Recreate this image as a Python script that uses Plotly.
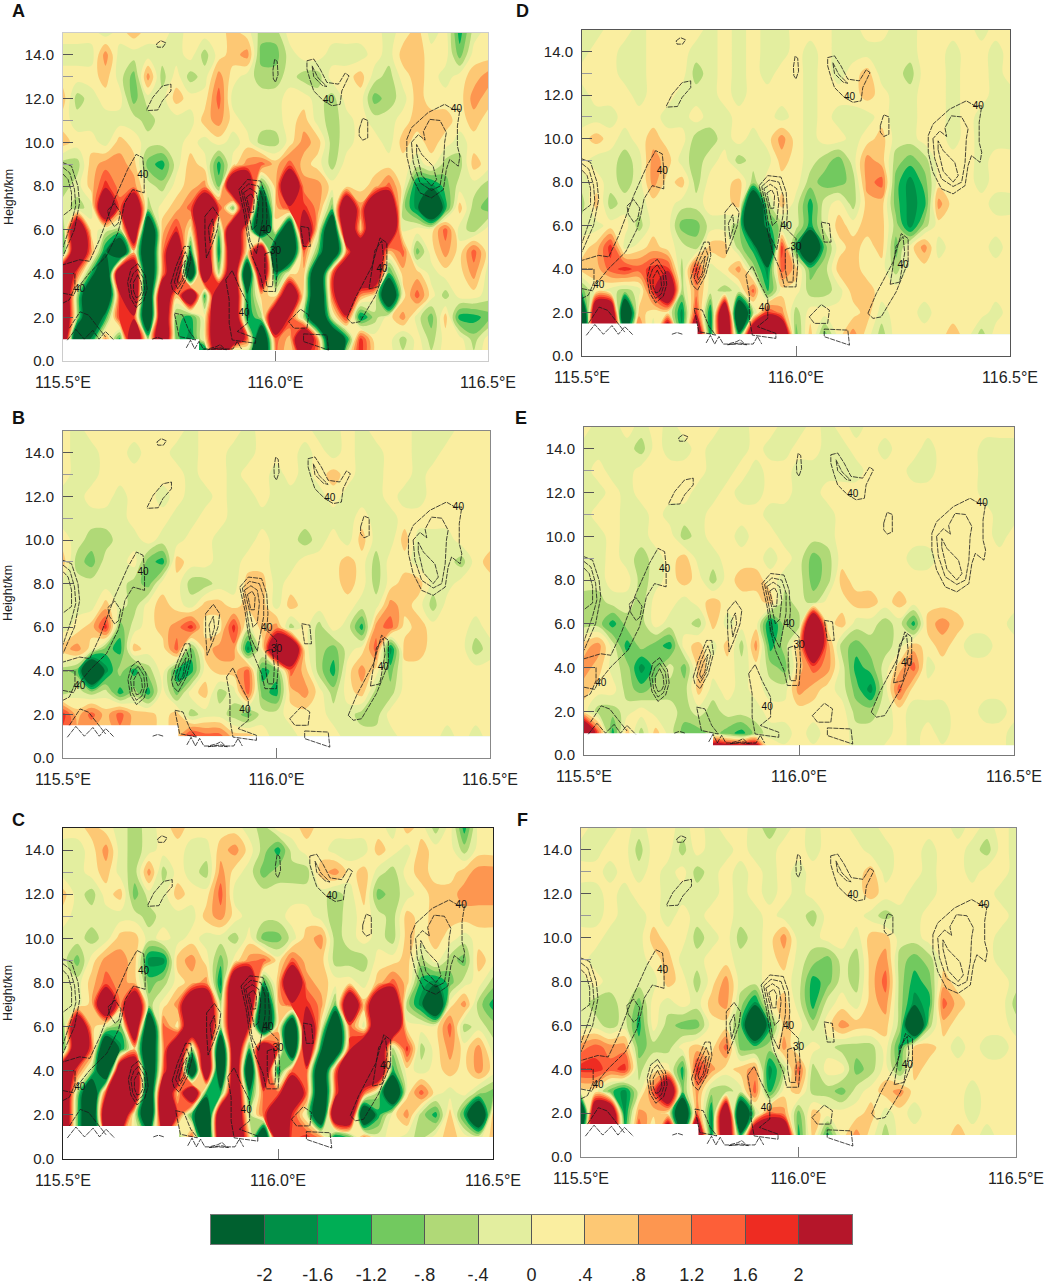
import plotly.graph_objects as go

# ---------- data (vertical velocity, in tenths of the colour-bar unit) ----------
lons = [115.5 + i / 30 for i in range(31)]
heights = [15, 14, 13, 12, 11, 10, 9, 8, 7, 6, 5, 4, 3, 2, 1]
heights_low = heights + [0]

panel_a = [
[2,2,2,-2,2,6,2,2,-2,2,2,2,6,2,-6,-6,2,2,2,2,2,2,2,-2,2,6,-2,2,-14,-2,2],
[-2,-2,-2,10,-2,-2,-2,-2,-2,2,-6,2,6,10,-10,-10,-2,2,2,-2,-2,-2,2,-2,6,6,2,2,-10,2,2],
[2,2,2,6,-2,-10,10,-6,2,-6,-2,10,2,-2,-6,-6,-2,-6,-6,2,2,6,-2,-6,2,6,2,-2,2,6,10],
[6,-6,-2,2,2,-10,-2,-2,6,2,2,14,-2,-2,-2,-2,2,2,-2,-6,2,2,-10,-6,-2,6,2,2,2,10,6],
[2,-2,-2,-2,-2,-2,-6,-2,-2,-2,6,10,2,-2,-2,-2,2,6,-2,-6,-2,2,-2,-2,2,6,6,6,2,6,2],
[6,2,2,-2,6,2,-2,-2,-2,2,-2,2,-2,2,-6,-6,2,10,6,-6,-2,2,2,-2,6,2,6,2,-2,2,2],
[-6,-6,6,10,10,6,-10,-14,-2,6,2,-14,2,10,14,6,14,6,2,-6,2,2,2,2,2,-2,2,-6,-6,6,2],
[-6,-2,6,18,10,10,-2,-6,2,6,10,-10,24,24,-14,6,24,10,10,2,2,2,6,14,2,-18,-18,-10,-2,-2,-6],
[-2,-6,-2,24,14,24,-6,2,6,14,24,18,-10,24,-24,6,18,18,10,-10,24,10,24,24,-6,-18,-24,-14,6,-6,-10],
[-10,24,2,-2,-6,24,-24,6,18,2,24,-10,24,6,-24,2,-24,24,2,-24,24,6,24,24,-2,2,2,14,-2,-6,2],
[-14,24,10,-18,-24,6,-24,10,24,-18,24,-18,24,2,24,-24,-24,14,-10,-24,10,24,24,6,14,-10,2,10,2,14,2],
[24,14,-14,-24,24,24,-24,10,24,-24,24,-6,24,-24,24,-18,2,6,-24,14,24,24,24,-14,6,6,-2,2,2,10,-2],
[24,-6,-24,-24,18,24,-24,24,6,24,-14,24,24,-18,6,2,24,2,-24,14,24,10,2,-24,2,14,2,-6,2,2,-2],
[24,-6,-24,-14,18,18,-24,24,-10,-14,2,24,24,-18,-6,24,18,-6,-24,-2,18,-18,-6,2,10,-2,-10,6,-14,-14,-10],
[24,-24,-18,10,-14,24,-6,24,-10,-18,2,24,24,14,-24,14,6,24,10,-24,-18,18,2,2,-6,2,-6,2,2,-6,2],
[2,2,2,2,2,2,2,2,2,2,-24,24,-24,-18,-24,14,2,18,14,-24,2,18,2,2,-2,2,-2,2,2,-2,2],
]

panel_b = [
[2,-2,2,2,2,2,2,2,2,-2,2,2,2,-2,2,2,2,2,-2,-2,2,-2,2,2,2,-2,-2,-2,2,2,2],
[2,-2,-2,2,2,-2,2,2,-2,-2,2,2,-2,-2,2,2,2,-2,2,-2,2,-2,-2,2,2,-2,-2,2,2,2,2],
[2,-2,-2,2,2,2,2,2,2,-2,2,2,-2,2,2,-2,2,-2,2,6,2,-2,-2,2,2,-2,2,2,2,2,2],
[-2,-2,2,2,-2,2,2,-2,2,-2,-2,2,-2,-2,2,-2,-2,-2,-2,2,-2,-2,-2,2,-2,-2,2,2,2,2,2],
[-2,-2,-2,-2,-2,2,2,2,-2,-2,2,2,-2,-2,-2,-2,-2,-2,-2,-2,-2,2,-2,-2,2,2,2,2,2,2,2],
[2,-2,-6,-6,-2,-2,2,-2,-2,2,2,-2,-2,-2,2,-2,-2,-6,-2,2,-2,6,-2,-2,6,-2,-2,-2,2,2,2],
[6,-6,-10,-2,-2,2,-10,-14,6,2,2,-2,-2,2,2,-2,-2,2,2,2,6,2,-6,2,2,-2,-2,-2,-6,2,6],
[-2,-2,-2,-2,-2,-6,-10,2,2,-6,-6,-2,-2,6,6,-2,2,2,2,2,6,2,-6,2,6,6,-2,-2,2,2,2],
[-2,-2,-2,6,-2,-6,2,6,2,-2,6,6,2,6,6,-2,6,2,2,2,2,-2,-2,10,6,2,-6,2,2,2,2],
[-2,2,6,18,-10,-2,2,6,10,18,2,2,18,-2,6,10,-6,2,-6,2,-2,-14,10,14,2,6,2,2,2,-2,2],
[6,10,2,-10,-14,6,2,2,14,-10,6,10,10,-18,2,24,24,2,-6,-10,-2,2,14,-18,6,6,2,2,2,-6,-2],
[-6,-10,-24,-18,-6,-14,-6,2,-14,-14,2,6,6,14,-14,-10,14,6,-6,-14,2,10,2,-10,2,2,2,2,2,2,2],
[-6,-2,-6,-2,-14,-6,-14,2,-10,2,6,-6,-2,14,-10,-14,6,10,2,-6,2,6,-6,-6,2,2,2,2,2,2,2],
[18,6,14,6,14,6,6,2,6,-6,-2,-2,-6,-10,-2,-2,2,2,2,-2,-2,-6,-6,2,2,2,2,2,2,2,2],
[14,10,6,2,10,6,6,2,6,18,14,14,6,6,2,-2,-2,2,2,2,-2,-2,-2,-2,2,2,2,-2,2,-2,2],
]

panel_c = [
[2,2,6,2,-2,-6,-2,2,6,2,2,2,2,-2,-6,2,2,6,2,2,2,2,2,-2,6,2,-6,2,-14,2,2],
[-2,-2,2,10,-2,-6,-2,2,2,-2,-2,6,10,2,-6,-14,-2,2,2,-2,-2,-2,6,2,-2,6,2,2,-6,2,2],
[-2,-2,2,6,-2,-6,10,-6,2,-2,-6,10,2,-2,-10,-6,-6,-6,6,10,2,6,-2,-6,2,6,2,2,6,10,10],
[6,-2,-6,2,6,-10,-2,-2,6,2,2,14,-2,-2,-2,-2,-2,-2,-2,-6,-2,6,-10,-6,-2,2,6,6,10,10,10],
[2,-2,-2,-2,-2,-2,-6,-2,-2,-2,6,10,2,-2,-2,-2,2,2,-2,-6,-2,2,-2,-6,6,2,6,6,6,6,6],
[-2,-2,-6,-2,6,6,-2,2,-2,2,-2,-2,-6,2,-10,-10,-2,6,10,-6,-2,2,-2,-6,6,2,6,2,-2,2,2],
[-2,-10,2,10,10,6,-18,-18,6,10,2,-10,2,10,14,2,14,6,6,-6,-6,-6,2,2,6,-6,2,-6,-10,6,2],
[-2,-2,6,14,10,6,-10,-6,2,6,10,-18,24,24,-14,6,24,10,6,2,2,-2,6,14,6,-14,-18,-10,-2,2,-6],
[-2,-2,6,24,10,24,-6,2,10,24,24,-6,24,24,-24,6,18,18,10,-10,24,6,24,24,-6,-18,-24,2,10,-6,-14],
[-10,24,6,-2,-10,24,-24,14,2,24,24,-6,24,18,-24,6,-24,24,2,-24,14,-2,24,24,2,2,2,14,-6,-2,-6],
[-14,24,14,-24,-18,6,-24,10,24,-6,24,-24,24,-14,24,14,-24,24,-18,-24,18,24,24,-6,18,-6,2,10,2,10,-2],
[24,14,-6,-24,24,24,-24,14,24,-24,24,-24,24,-24,24,-18,14,14,-24,14,24,24,24,-14,2,-2,2,6,2,10,2],
[24,-6,-24,18,24,24,-24,24,6,24,-14,-14,24,-18,14,14,24,14,-24,14,24,14,-6,-24,2,14,2,-2,2,-6,-10],
[24,-10,-24,24,24,-2,-24,24,18,-14,-24,24,24,-6,14,24,18,-2,-24,24,24,-24,-14,2,10,-6,-14,6,-14,-24,6],
[24,-10,-24,14,10,2,-10,18,-10,14,-24,24,24,6,-24,24,14,18,10,-18,-10,10,-2,2,-2,-6,2,6,2,-2,6],
]

panel_d = [
[-2,-2,2,2,-2,2,2,2,2,-2,2,-2,2,-2,-2,2,2,2,-2,-2,2,2,-2,-2,2,2,2,2,-2,2,2],
[-2,2,2,-2,-2,2,2,2,-2,-2,2,-2,2,-2,-2,2,-2,2,-2,-2,-2,-2,-2,-2,2,2,-2,2,2,-2,2],
[2,2,2,-2,-2,2,2,2,-6,-2,2,-2,2,-2,2,2,-2,2,-2,2,6,-2,-2,-6,2,2,-2,2,2,-2,2],
[-2,2,2,2,-2,2,2,-2,-2,-2,2,-2,2,2,2,2,-2,2,2,2,6,2,-2,-2,2,2,-2,2,2,-2,-2],
[-2,-2,-2,2,2,2,-2,-2,2,-2,-2,2,2,2,-2,2,-2,2,-2,-2,-2,2,-2,-2,2,2,-2,2,-2,-2,-2],
[2,6,2,-2,2,6,2,2,-6,-6,-2,2,-2,2,10,2,-2,2,2,-2,2,6,-2,-2,2,2,-2,2,-2,-2,-2],
[2,-2,-2,-6,-2,10,6,-2,-6,-2,2,-6,-2,-2,6,2,-2,-6,-10,-2,10,6,-6,-10,-6,2,2,2,-2,2,2],
[-2,2,-2,-6,-2,10,2,6,-6,2,2,6,-6,2,2,2,-6,-10,-10,-6,10,14,-10,-18,-10,2,2,2,-2,2,2],
[-6,6,-6,-2,-2,2,2,-2,-2,2,2,6,-24,-6,6,-2,-14,-2,2,-6,6,6,-10,-18,-14,10,2,2,2,-2,-2],
[-2,-2,2,2,-6,2,2,-10,-10,-2,-2,-6,-24,-14,-6,-2,-14,-2,6,2,6,6,-6,-18,-6,2,2,2,2,2,2],
[2,6,18,-2,2,6,2,-2,-6,6,6,-6,-14,-24,18,-14,-24,-10,2,6,2,6,-10,2,10,-2,2,2,2,-2,2],
[6,6,14,18,14,18,18,-6,18,-2,2,10,-6,-18,14,6,-10,-6,6,6,2,2,-6,2,2,2,2,2,2,2,2],
[-10,2,-2,-6,-2,18,24,-6,10,-2,-6,-2,14,-14,2,2,-6,-6,-2,6,6,2,2,2,2,2,2,2,2,2,2],
[-24,24,24,-24,6,2,2,-18,18,-18,24,-24,-6,18,10,-6,2,2,2,2,6,-2,2,2,-2,2,2,2,2,-2,2],
[-24,24,24,-18,18,-6,24,-14,24,-18,24,-18,24,24,24,-10,6,-10,2,10,2,-6,2,2,2,2,6,2,-6,2,2],
]

panel_e = [
[2,-2,-2,2,-2,2,-2,2,2,2,-2,-2,2,2,-2,-2,2,-2,2,-2,2,2,2,2,2,2,2,2,2,2,2],
[-2,-2,-2,-2,-6,2,-2,-2,2,-2,-2,-2,2,-2,-2,2,2,-2,-2,2,2,-2,2,2,-2,2,2,2,-2,-2,-2],
[-2,2,-2,-2,2,2,2,2,2,-2,-2,2,-2,2,2,-2,-2,-2,-2,-2,2,2,2,-2,-2,2,2,2,-2,-2,-2],
[-2,-2,2,-2,2,2,2,2,-2,-2,2,-2,-2,2,2,-2,-2,2,2,2,2,2,2,2,2,2,2,2,-2,-2,-2],
[-2,2,2,-2,-2,2,-2,-2,-2,2,2,2,2,-2,-2,-2,-2,-2,2,2,2,2,2,2,2,2,2,2,2,-2,-2],
[-2,-2,2,-2,-2,2,2,-6,-2,2,2,-2,2,2,-2,-2,-2,-2,2,2,2,2,2,2,2,2,2,2,2,-2,2],
[-2,-2,2,-2,-6,-2,2,6,-2,-2,2,2,2,-2,2,-2,-10,-6,2,2,2,2,2,-2,-2,2,2,2,2,2,2],
[-2,-2,2,2,-6,-2,2,6,2,-6,2,6,6,2,-2,-2,-10,-6,6,2,2,2,2,2,2,2,2,2,2,2,2],
[-6,-6,-2,-2,-6,2,2,-2,2,6,2,2,2,6,-6,-2,-6,2,2,6,6,2,6,2,2,2,2,2,2,2,2],
[-6,-6,-14,-6,-6,2,-2,-2,-6,6,-2,2,2,-18,-6,-6,24,2,6,-2,-2,-6,-2,-14,6,10,6,2,2,2,-2],
[6,10,-2,-14,-6,-10,-14,2,6,-2,6,-6,10,-14,-6,6,24,10,-6,-10,-6,-6,-2,6,2,6,2,-2,-2,2,2],
[10,6,-2,-6,-18,-10,-2,-10,6,2,2,-2,2,-6,-10,6,14,10,-2,-14,-10,-2,6,14,-2,2,2,2,2,2,2],
[6,2,2,-6,-10,-6,-6,-6,6,-2,2,-2,2,-2,-2,10,6,2,-2,-10,-18,-2,14,2,2,2,2,2,2,2,2],
[2,-6,-6,-2,2,-2,-2,-6,-2,-6,-2,-2,-2,2,2,2,2,2,2,-6,-6,-2,2,-2,-2,-2,2,2,-2,-2,2],
[24,14,-14,6,-6,6,-2,-10,-10,-6,-10,-14,-6,-2,-2,2,-2,2,2,-2,-2,-2,2,-2,2,-2,2,2,2,2,-2],
[2,2,2,2,2,2,2,2,2,50,50,50,50,6,2,2,2,2,2,-2,-2,2,2,-2,2,2,2,2,2,2,-2],
]

panel_f = [
[2,-2,-2,2,-2,2,2,-2,2,-2,2,2,-2,-6,-2,2,-2,2,2,-2,-2,2,2,2,2,2,-2,2,-2,2,-2],
[-2,-2,2,2,-6,2,2,-6,2,-2,-2,2,-2,-2,2,2,-2,2,2,2,-2,-2,2,2,-2,2,2,-2,-6,2,-2],
[2,2,-2,2,-2,2,-2,2,-6,-2,2,-2,2,-2,2,-2,2,2,2,2,6,-2,2,2,-2,2,2,-2,2,2,-2],
[-2,-2,2,-2,2,2,-2,-2,-2,-2,2,-2,2,-2,2,-2,2,2,2,2,6,2,2,-2,-2,2,2,2,2,-2,-2],
[-2,-2,2,-2,-2,2,-2,2,-2,2,2,-2,-2,2,-2,-2,-6,2,2,2,-2,-6,-2,-2,2,2,2,2,2,2,-2],
[2,2,-2,-2,-2,6,2,2,-6,-2,2,-6,-2,2,10,-2,-2,2,2,-2,6,6,-2,-2,2,2,2,2,2,-2,-2],
[2,-2,-2,-2,-2,2,6,-2,-2,2,2,-2,-2,2,6,-2,-6,-10,-2,-6,6,10,-6,-10,-6,2,2,2,2,-2,-2],
[-2,2,-2,-2,-2,-2,6,2,-6,2,10,-2,-2,2,2,-2,-14,-10,-2,-6,6,14,-6,-14,-10,6,2,2,2,2,-2],
[-2,-6,-6,-2,-10,2,-2,2,-2,6,10,-6,-18,2,6,-2,-14,-2,2,-2,6,10,-6,-18,-14,14,6,2,2,2,-6],
[-2,-2,-6,-2,-14,2,-6,-10,-10,2,2,-10,-24,-14,6,2,-6,2,10,6,6,6,-6,-24,-6,6,2,2,2,2,-2],
[10,14,10,10,-10,-6,-6,2,6,2,14,-10,-10,-6,10,-2,2,-2,-6,-6,-6,2,-14,6,6,2,-2,2,-2,-2,2],
[18,18,14,18,-6,2,2,-14,18,10,2,6,10,-18,-6,14,-6,2,2,-10,-6,2,-10,6,2,2,2,2,2,2,2],
[2,2,-10,-18,-2,14,24,-10,10,-6,-6,-2,14,-14,2,6,-6,-6,-10,-2,2,6,10,2,2,2,2,-2,2,2,2],
[-24,24,24,-18,10,6,2,-24,14,-18,24,-24,-6,14,10,-10,6,2,2,2,6,-2,2,-2,2,2,2,-2,2,2,2],
[-18,24,24,-14,18,-6,24,-14,24,-18,24,-18,24,24,24,-14,6,-14,2,10,2,-6,2,2,2,2,6,2,-2,2,2],
]

# terrain: lon of the step, height left of the step, height right of it
terrain_a = [115.82, 1.0, 0.5]
terrain_b = [115.77, 1.5, 1.0]
terrain_c = [115.77, 1.5, 1.0]
terrain_d = [115.77, 1.5, 1.0]
terrain_e = [115.80, 1.0, 0.45]
terrain_f = [115.77, 1.5, 1.0]

level_values = [-2.2, -1.8, -1.4, -1.0, -0.6, -0.2, 0.2, 0.6, 1.0, 1.4, 1.8, 2.2]
level_colors = ["#00602f", "#008f47", "#00ae55", "#72c95f", "#b0d977", "#e3ee9f",
                "#faeea0", "#fdc874", "#fd9650", "#fd5f38", "#ee2c22", "#b5162a"]
bar_ticks = [-2, -1.6, -1.2, -0.8, -0.4, 0, 0.4, 0.8, 1.2, 1.6, 2]
bar_labels = ["-2", "-1.6", "-1.2", "-.8", "-.4", "0", ".4", ".8", "1.2", "1.6", "2"]

x_ticks = [115.5, 116.0, 116.5]
x_labels = ["115.5°E", "116.0°E", "116.5°E"]
y_ticks = [0, 2, 4, 6, 8, 10, 12, 14]
y_labels = ["0.0", "2.0", "4.0", "6.0", "8.0", "10.0", "12.0", "14.0"]

# reflectivity outlines (lon, km), the same in all six panels
outlines = [
[(115.72,14.5),(115.73,14.65),(115.742,14.55),(115.735,14.35),(115.722,14.35),(115.72,14.5)],
[(115.994,13.3),(115.998,13.8),(116.004,13.7),(116.006,13.1),(116.0,12.75),(115.995,12.9),(115.994,13.3)],
[(115.697,11.5),(115.711,12.05),(115.734,12.58),(115.754,12.66),(115.754,12.35),(115.734,11.9),(115.723,11.48),(115.697,11.45)],
[(116.074,13.73),(116.09,13.81),(116.105,13.35),(116.121,12.74),(116.148,12.66),(116.164,13.17),(116.173,13.04),(116.156,12.35),(116.152,11.74),(116.133,11.67),(116.113,11.9),(116.09,12.35),(116.082,12.81),(116.074,13.35),(116.074,13.73)],
[(116.086,13.5),(116.1,12.95),(116.121,12.55),(116.11,12.6),(116.09,13.0),(116.086,13.5)],
[(116.197,10.6),(116.205,11.1),(116.217,11.0),(116.217,10.2),(116.205,10.1),(116.197,10.3),(116.197,10.6)],
[(116.309,10.14),(116.32,10.67),(116.359,11.36),(116.398,11.74),(116.418,11.51),(116.434,11.51),(116.428,10.75),(116.428,9.83),(116.434,9.37),(116.43,8.91),(116.41,9.22),(116.402,8.76),(116.395,7.84),(116.367,7.46),(116.34,7.69),(116.32,8.46),(116.309,9.37),(116.309,10.14)],
[(116.32,10.0),(116.324,9.1),(116.34,8.15),(116.367,7.8),(116.387,8.0),(116.395,8.9),(116.398,10.0),(116.402,10.45),(116.387,11.0),(116.363,11.05),(116.348,10.5),(116.352,10.1),(116.336,10.35),(116.32,10.0)],
[(116.332,9.5),(116.344,8.5),(116.367,8.0),(116.379,8.3),(116.371,8.9),(116.344,9.45),(116.332,9.9),(116.332,9.5)],
[(115.5,9.07),(115.52,8.91),(115.535,8.0),(115.539,7.23),(115.527,6.01),(115.508,5.09),(115.5,4.79)],
[(115.5,8.85),(115.516,8.6),(115.527,7.85),(115.53,7.1),(115.52,6.35),(115.5,5.2)],
[(115.5,8.55),(115.512,8.3),(115.52,7.7),(115.52,6.95),(115.5,6.65)],
[(115.5,3.1),(115.525,3.0),(115.531,3.26),(115.562,4.02),(115.602,4.79),(115.629,5.86),(115.637,6.47),(115.645,7.23),(115.664,7.84),(115.691,7.69),(115.691,8.61),(115.6875,9.3),(115.672,9.45),(115.652,8.76),(115.621,7.39),(115.609,6.77),(115.586,5.55),(115.5625,4.56),(115.539,4.63),(115.5,4.4)],
[(115.5,4.0),(115.528,4.0),(115.528,3.4),(115.515,2.8),(115.5,2.65)],
[(115.605,6.9),(115.621,7.2),(115.635,6.8),(115.63,6.3),(115.621,6.15),(115.609,6.5),(115.605,6.9)],
[(115.676,4.45),(115.694,3.9),(115.698,3.3),(115.69,2.75),(115.672,2.45),(115.658,2.9),(115.652,3.6),(115.66,4.2),(115.676,4.45)],
[(115.676,4.2),(115.689,3.8),(115.692,3.3),(115.685,2.85),(115.672,2.65),(115.662,3.0),(115.658,3.6),(115.665,4.0),(115.676,4.2)],
[(115.676,3.95),(115.684,3.6),(115.686,3.2),(115.68,2.95),(115.672,2.9),(115.666,3.2),(115.666,3.6),(115.676,3.95)],
[(115.754,3.56),(115.766,4.33),(115.785,5.24),(115.797,5.24),(115.801,4.63),(115.789,3.72),(115.77,3.03),(115.758,3.26),(115.754,3.56)],
[(115.762,3.6),(115.772,4.3),(115.788,5.0),(115.795,4.6),(115.784,3.75),(115.77,3.3),(115.762,3.6)],
[(115.769,3.7),(115.778,4.25),(115.788,4.6),(115.781,3.8),(115.772,3.5),(115.769,3.7)],
[(115.834,6.62),(115.852,7.05),(115.867,6.62),(115.863,6.01),(115.852,5.4),(115.8375,4.71),(115.834,5.7),(115.834,6.62)],
[(115.842,6.1),(115.852,6.5),(115.855,6.0),(115.846,5.4),(115.842,6.1)],
[(115.914,7.84),(115.934,8.3),(115.965,8.23),(115.977,7.54),(115.98,6.62),(115.977,5.86),(116.0,5.4),(116.004,4.17),(116.0,3.18),(115.973,3.18),(115.965,3.87),(115.945,4.79),(115.934,5.7),(115.926,6.77),(115.914,7.84)],
[(115.92,7.8),(115.937,8.1),(115.96,8.0),(115.97,7.4),(115.97,6.5),(115.962,5.6),(115.955,4.9),(115.94,5.5),(115.93,6.8),(115.92,7.8)],
[(115.925,7.7),(115.94,7.9),(115.955,7.7),(115.96,7.1),(115.955,6.2),(115.945,6.0),(115.935,6.9),(115.925,7.7)],
[(115.932,7.5),(115.943,7.65),(115.95,7.4),(115.948,6.8),(115.94,6.8),(115.932,7.5)],
[(115.975,4.9),(115.99,5.0),(115.995,4.2),(115.993,3.4),(115.98,3.4),(115.975,4.0),(115.975,4.9)],
[(115.883,3.72),(115.898,4.14),(115.914,3.41),(115.934,2.65),(115.934,1.73),(115.91,1.35),(115.953,1.04),(115.953,0.81),(115.898,0.96),(115.891,1.73),(115.891,2.8),(115.883,3.72)],
[(116.031,1.8),(116.059,2.37),(116.078,2.11),(116.074,1.5),(116.043,1.5),(116.031,1.8)],
[(116.059,6.16),(116.078,6.09),(116.082,5.24),(116.066,5.24),(116.059,6.16)],
[(116.066,1.24),(116.121,1.19),(116.125,0.5),(116.066,0.89),(116.066,1.24)],
[(116.168,1.96),(116.1875,2.87),(116.227,4.33),(116.246,5.63),(116.262,5.4),(116.262,4.33),(116.234,2.95),(116.199,1.8),(116.18,1.73),(116.168,1.96)],
[(116.22,3.3),(116.234,5.05),(116.25,5.5),(116.254,4.75),(116.242,3.4),(116.22,3.3)],
[(115.762,2.19),(115.781,2.11),(115.797,1.35),(115.8125,0.96),(115.773,1.12),(115.762,2.19)],
[(115.51,0.95),(115.53,1.45),(115.55,1.0),(115.57,1.4),(115.585,1.0),(115.6,1.35),(115.62,0.95)],
[(115.515,1.5),(115.54,2.25),(115.56,2.1),(115.6,1.1)],
[(115.79,0.6),(115.8,0.95),(115.81,0.55),(115.82,0.9),(115.83,0.55),(115.84,0.55),(115.86,0.65),(115.87,0.75),(115.88,0.55),(115.9,0.55),(115.91,0.9),(115.92,0.55)],
[(115.84,0.52),(115.87,0.6),(115.885,0.52),(115.86,0.55),(115.84,0.52)],
[(115.71,1.0),(115.722,1.08),(115.735,1.0)],
]

# labels on the outlines
label_lon = [115.6875, 115.539, 115.926, 115.977, 116.0, 116.125, 116.426, 116.25]
label_h = [8.5, 3.26, 2.19, 5.96, 5.0, 11.9, 11.48, 4.17]
label_text = ["40", "40", "40", "40", "30", "40", "40", "40"]

panel_letters = ["A", "B", "C", "D", "E", "F"]
letter_px = [(18, 11), (18, 418), (18, 820), (522, 11), (521, 418), (522, 820)]
ylabel_px = [(9, 197), (8, 593), (8, 993)]
# plot area in pixels: left, right, top, bottom
frames = [(63, 488, 33, 361), (63, 490, 431, 758), (63, 493, 828, 1159),
          (582, 1010, 30, 356), (584, 1014, 427, 755), (581, 1016, 828, 1157)]
frame_colors = ["#cccccc", "#888888", "#222222", "#555555", "#777777", "#888888"]
panels = [panel_a, panel_b, panel_c, panel_d, panel_e, panel_f]
terrains = [terrain_a, terrain_b, terrain_c, terrain_d, terrain_e, terrain_f]
SATURATED = 4.5   # cells read as deep beyond the last colour step

# ---------- figure ----------
W, H = 1045, 1284
FONT = "Liberation Sans"
n = len(level_colors)
scale = [[i / (n - 1), c] for i, c in enumerate(level_colors)]


def cell(v):
    if abs(v) == 24:
        return SATURATED if v > 0 else -SATURATED
    return v / 10


out_x, out_y = [], []
for line in outlines:
    out_x += [p[0] for p in line] + [None]
    out_y += [p[1] for p in line] + [None]

fig = go.Figure()
layout = dict(width=W, height=H, margin=dict(l=0, r=0, t=0, b=0), autosize=False,
              paper_bgcolor="white", plot_bgcolor="white", showlegend=False,
              font=dict(family=FONT, color="#222"))
annotations = []

for k, (grid, frame, terr) in enumerate(zip(panels, frames, terrains)):
    ax = "" if k == 0 else str(k + 1)
    rows = heights_low if len(grid) == 16 else heights
    fig.add_trace(go.Contour(
        x=lons, y=rows, z=[[cell(v) for v in r] for r in grid],
        xaxis="x" + ax, yaxis="y" + ax, zmin=-2.2, zmax=2.2, zauto=False,
        colorscale=scale, showscale=False, autocontour=False, hoverinfo="skip",
        contours=dict(start=-2, end=2, size=0.4, coloring="fill", showlines=False),
        line=dict(width=0, smoothing=1.0)))
    step, left_h, right_h = terr
    fig.add_trace(go.Scatter(
        x=[115.5, step, step, 116.5, 116.5, 115.5, 115.5],
        y=[left_h, left_h, right_h, right_h, 0, 0, left_h],
        mode="lines", fill="toself", fillcolor="white", line=dict(width=0, color="white"),
        xaxis="x" + ax, yaxis="y" + ax, hoverinfo="skip"))
    fig.add_trace(go.Scatter(
        x=out_x, y=out_y, mode="lines", line=dict(color="#1a1a1a", width=0.8, dash="5px,1px"),
        xaxis="x" + ax, yaxis="y" + ax, hoverinfo="skip"))
    fig.add_trace(go.Scatter(
        x=label_lon, y=label_h, text=label_text, mode="text",
        textfont=dict(size=10, color="#111", family=FONT),
        xaxis="x" + ax, yaxis="y" + ax, hoverinfo="skip"))
    l, r, t, b = frame
    layout["xaxis" + ax] = dict(
        domain=[l / W, r / W], range=[115.5, 116.5], anchor="y" + ax, automargin=False,
        tickmode="array", tickvals=x_ticks, ticktext=x_labels, ticks="inside", ticklen=10,
        tickcolor="#777", tickwidth=1, tickfont=dict(size=16, family=FONT, color="#222"),
        ticklabelstandoff=7,
        showgrid=False, zeroline=False, showline=True, linecolor=frame_colors[k], linewidth=1,
        mirror=True, layer="above traces")
    layout["yaxis" + ax] = dict(
        domain=[1 - b / H, 1 - t / H], range=[0, 15], anchor="x" + ax, automargin=False,
        tickmode="array", tickvals=y_ticks, ticktext=y_labels, ticks="inside", ticklen=10,
        tickcolor="#555", tickwidth=1, tickfont=dict(size=15, family=FONT, color="#222"),
        ticklabelstandoff=5,
        minor=dict(tickvals=[9, 11, 13], ticks="inside", ticklen=10, tickcolor="#999"),
        showgrid=False, zeroline=False, showline=True, linecolor=frame_colors[k], linewidth=1,
        mirror=True, layer="above traces")
    px, py = letter_px[k]
    annotations.append(dict(text="<b>%s</b>" % panel_letters[k], x=px / W, y=1 - py / H,
                            xref="paper", yref="paper", showarrow=False,
                            xanchor="center", yanchor="middle",
                            font=dict(size=18, family=FONT, color="#111")))

for px, py in ylabel_px:
    annotations.append(dict(text="Height/km", x=px / W, y=1 - py / H, xref="paper", yref="paper",
                            showarrow=False, textangle=-90, xanchor="center", yanchor="middle",
                            font=dict(size=12.5, family=FONT, color="#222")))

# colour bar as a row of cells; the inside ticks are the dark separators
fig.add_trace(go.Heatmap(
    x=level_values, y=[0], z=[level_values], xaxis="x7", yaxis="y7",
    zmin=-2.2, zmax=2.2, colorscale=scale, showscale=False, hoverinfo="skip"))
layout["xaxis7"] = dict(
    domain=[211 / W, 852 / W], range=[-2.4, 2.4], anchor="y7", automargin=False, tickmode="array",
    tickvals=bar_ticks, ticktext=bar_labels, ticks="inside", ticklen=29, tickcolor="#555",
    tickwidth=1, ticklabelstandoff=14, layer="above traces",
    tickfont=dict(size=18, family=FONT, color="#222"), showgrid=False, zeroline=False,
    showline=True, linecolor="#777", mirror=True)
layout["yaxis7"] = dict(
    domain=[1 - 1244 / H, 1 - 1215 / H], range=[-0.5, 0.5], anchor="x7", automargin=False,
    showticklabels=False, ticks="", showgrid=False, zeroline=False,
    showline=True, linecolor="#777", mirror=True)
layout["annotations"] = annotations
fig.update_layout(**layout)
fig.write_html("out.html", config=dict(displayModeBar=False),
               post_script="document.body.style.margin='0';document.documentElement.style.overflow='hidden';")
